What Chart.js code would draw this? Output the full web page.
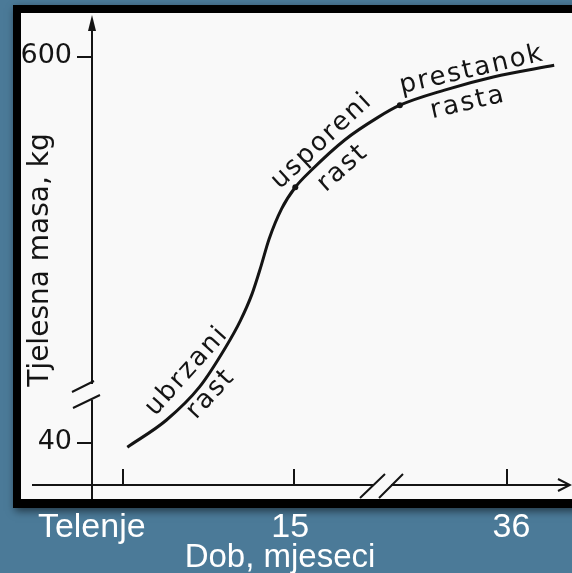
<!DOCTYPE html>
<html>
<head>
<meta charset="utf-8">
<script src="https://cdn.jsdelivr.net/npm/chart.js@4/dist/chart.umd.min.js"></script>
<style>
  html, body { margin: 0; padding: 0; background: #4b7a98; }
  canvas { display: block; }
</style>
</head>
<body>
<canvas id="c" width="572" height="573"></canvas>
<script>
// ---- data ----
const months  = [0.4, 3.8, 6.7, 9.0, 10.3, 11.3, 12.1, 12.8, 13.9, 15.1, 16.7, 20.0, 23.2, 25.4, 29.8, 34.6, 40.6];
const massKg  = [34, 73, 121, 179, 218, 256, 297, 336, 380, 411, 436, 480, 512, 530, 552, 571, 588];
const stageMonths = [15.1, 25.4];
const stageMass   = [411, 530];
const xTickValues = [0, 15, 36];
const xTickLabels = ['Telenje', '15', '36'];
const yTickValues = [40, 600];
const yTickLabels = ['40', '600'];
const xTitle = 'Dob, mjeseci';
const yTitle = 'Tjelesna masa, kg';
const phaseLabels = ['ubrzani', 'rast', 'usporeni', 'rast', 'prestanok', 'rasta'];

// ---- broken x axis (compressed after 15 months) ----
const BREAK_AT = 15, AFTER = 0.888;
function pos(v) { return v <= BREAK_AT ? v : BREAK_AT + (v - BREAK_AT) * AFTER; }
function invPos(p) { return p <= BREAK_AT ? p : BREAK_AT + (p - BREAK_AT) / AFTER; }
class BrokenLinearScale extends Chart.LinearScale {
  getPixelForValue(value) {
    const a = pos(this.min), b = pos(this.max);
    return this.left + (pos(value) - a) / (b - a) * this.width;
  }
  getValueForPixel(pixel) {
    const a = pos(this.min), b = pos(this.max);
    return invPos(a + (pixel - this.left) / this.width * (b - a));
  }
}
BrokenLinearScale.id = 'brokenLinear';
BrokenLinearScale.defaults = Chart.LinearScale.defaults;
Chart.register(BrokenLinearScale);

const INK = '#141414';
const TECH_FONT = '"DejaVu Sans", sans-serif';
const SLIDE_FONT = '"Liberation Sans", Arial, sans-serif';

// label layout (pixel anchors, angle in degrees)
const phaseLayout = [
  { x: 187, y: 371, a: -48 },
  { x: 211, y: 394, a: -47 },
  { x: 322, y: 141, a: -43 },
  { x: 343, y: 168, a: -42 },
  { x: 472, y: 70,  a: -13 },
  { x: 468, y: 103, a: -13 }
];

const decor = {
  id: 'decor',
  beforeDraw(chart) {
    const ctx = chart.ctx;
    ctx.save();
    ctx.fillStyle = '#4b7a98';
    ctx.fillRect(0, 0, chart.width, chart.height);
    ctx.shadowColor = 'rgba(0,0,0,0.55)';
    ctx.shadowBlur = 8;
    ctx.shadowOffsetX = 2;
    ctx.shadowOffsetY = 3;
    ctx.fillStyle = '#000';
    ctx.fillRect(13, 5, 580, 503);
    ctx.shadowColor = 'transparent';
    ctx.fillStyle = '#f9f9f9';
    ctx.fillRect(21, 13, 560, 486);
    ctx.restore();
  },
  beforeDatasetsDraw(chart) {
    const ctx = chart.ctx;
    const xs = chart.scales.x, ys = chart.scales.y;
    const ax = chart.chartArea.left;
    const ay = chart.chartArea.bottom;
    ctx.save();
    ctx.strokeStyle = INK;
    ctx.fillStyle = INK;
    ctx.lineWidth = 2;
    ctx.lineCap = 'butt';
    ctx.beginPath();
    ctx.moveTo(ax, 24); ctx.lineTo(ax, 384);
    ctx.moveTo(ax, 400); ctx.lineTo(ax, 499);
    ctx.stroke();
    ctx.beginPath();
    ctx.moveTo(ax, 15); ctx.lineTo(ax - 4, 31); ctx.lineTo(ax + 4, 31); ctx.closePath();
    ctx.fill();
    ctx.beginPath();
    ctx.moveTo(ax - 20, 392); ctx.lineTo(ax + 2, 381);
    ctx.moveTo(ax - 19, 408); ctx.lineTo(ax + 8, 395);
    ctx.stroke();
    ctx.beginPath();
    ctx.moveTo(32, ay); ctx.lineTo(373, ay);
    ctx.moveTo(391, ay); ctx.lineTo(569, ay);
    ctx.stroke();
    ctx.beginPath();
    ctx.moveTo(558, ay - 6); ctx.lineTo(570, ay); ctx.lineTo(558, ay + 6);
    ctx.stroke();
    ctx.beginPath();
    ctx.moveTo(360, 498); ctx.lineTo(385, 474);
    ctx.moveTo(379, 498); ctx.lineTo(403, 474);
    ctx.stroke();
    ctx.beginPath();
    xTickValues.forEach(v => {
      const px = Math.round(xs.getPixelForValue(v));
      ctx.moveTo(px, ay - 16); ctx.lineTo(px, ay);
    });
    yTickValues.forEach(v => {
      const py = Math.round(ys.getPixelForValue(v));
      ctx.moveTo(ax - 15, py); ctx.lineTo(ax, py);
    });
    ctx.stroke();
    ctx.font = '27px ' + TECH_FONT;
    ctx.textAlign = 'right';
    ctx.textBaseline = 'middle';
    yTickValues.forEach((v, i) => {
      ctx.fillText(yTickLabels[i], ax - 20, ys.getPixelForValue(v) - 1);
    });
    ctx.save();
    ctx.translate(48, 260);
    ctx.rotate(-Math.PI / 2);
    ctx.font = '28px ' + TECH_FONT;
    ctx.textAlign = 'center';
    ctx.textBaseline = 'alphabetic';
    ctx.fillText(yTitle, 0, 0);
    ctx.restore();
    ctx.restore();
  },
  afterDatasetsDraw(chart) {
    const ctx = chart.ctx;
    ctx.save();
    ctx.fillStyle = INK;
    ctx.font = '26px ' + TECH_FONT;
    ctx.textAlign = 'center';
    ctx.textBaseline = 'middle';
    try { ctx.letterSpacing = '2px'; } catch (e) {}
    phaseLabels.forEach((t, i) => {
      const L = phaseLayout[i];
      ctx.save();
      ctx.translate(L.x, L.y);
      ctx.rotate(L.a * Math.PI / 180);
      ctx.fillText(t, 0, 0);
      ctx.restore();
    });
    ctx.restore();
  },
  afterDraw(chart) {
    const ctx = chart.ctx;
    const xs = chart.scales.x;
    const offsets = [-31, -4, 4];
    ctx.save();
    ctx.fillStyle = '#ffffff';
    ctx.textAlign = 'center';
    ctx.textBaseline = 'alphabetic';
    ctx.font = '34px ' + SLIDE_FONT;
    xTickValues.forEach((v, i) => {
      ctx.fillText(xTickLabels[i], xs.getPixelForValue(v) + offsets[i], 537);
    });
    ctx.font = '33px ' + SLIDE_FONT;
    ctx.fillText(xTitle, 280, 567);
    ctx.restore();
  }
};

new Chart(document.getElementById('c'), {
  type: 'line',
  data: {
    datasets: [
      {
        data: months.map((m, i) => ({ x: m, y: massKg[i] })),
        borderColor: INK,
        borderWidth: 3,
        pointRadius: 0,
        cubicInterpolationMode: 'monotone',
        fill: false,
        clip: false
      },
      {
        data: stageMonths.map((m, i) => ({ x: m, y: stageMass[i] })),
        showLine: false,
        pointRadius: 3,
        pointBackgroundColor: INK,
        pointBorderColor: INK,
        pointBorderWidth: 0,
        clip: false
      }
    ]
  },
  options: {
    responsive: false,
    animation: false,
    events: [],
    layout: { padding: { left: 92, right: 0, top: 15, bottom: 88 } },
    plugins: { legend: { display: false }, title: { display: false }, tooltip: { enabled: false } },
    scales: {
      x: { type: 'brokenLinear', display: false, min: -2.69, max: 41.96 },
      y: { type: 'linear', display: false, min: -20.9, max: 660.9 }
    }
  },
  plugins: [decor]
});
</script>
</body>
</html>
